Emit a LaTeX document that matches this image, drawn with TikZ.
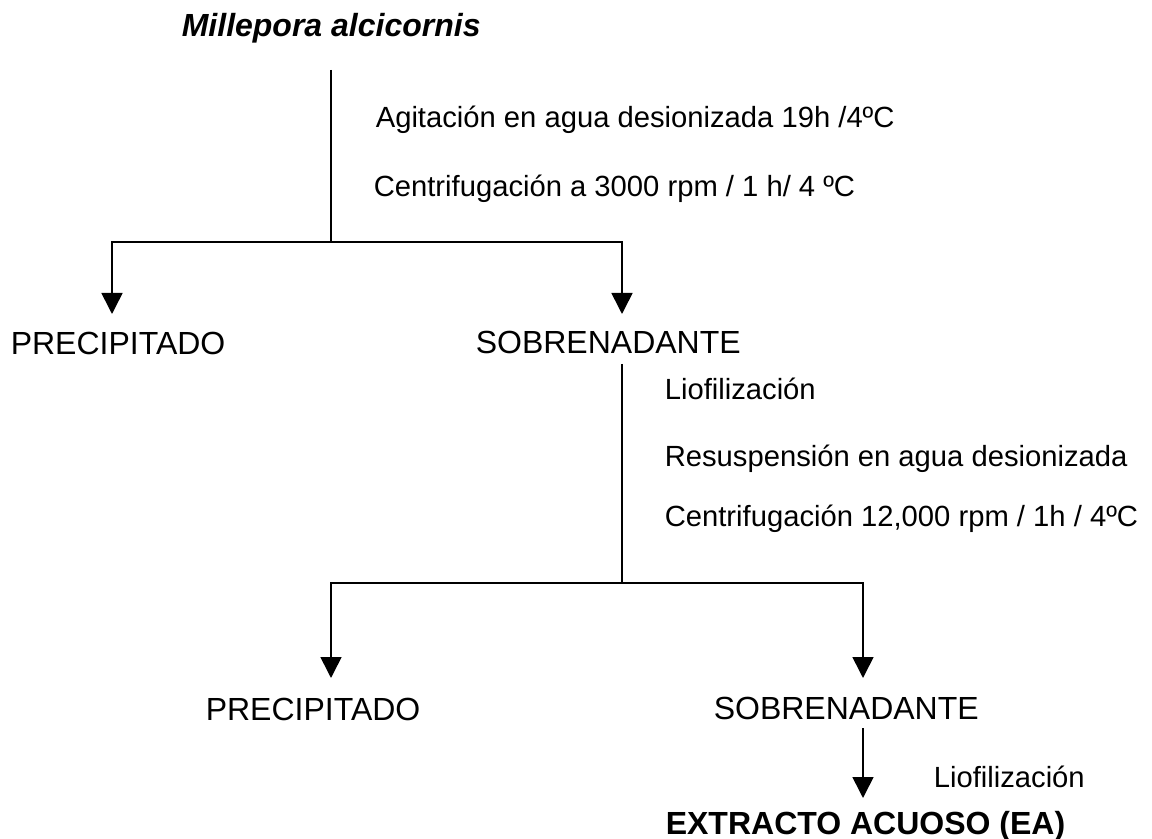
\documentclass[tikz,border=0pt]{standalone}
\usepackage{fontspec}
\setmainfont{Liberation Sans}
\usetikzlibrary{arrows.meta}
\tikzset{
	fase/.style={anchor=base west,inner sep=0pt,font=\fontsize{16pt}{19pt}\selectfont},
	paso/.style={anchor=base west,inner sep=0pt,font=\fontsize{14.6pt}{17pt}\selectfont},
	flecha/.style={-{Triangle[width=10.5pt,length=10.5pt]}}
}
\begin{document}
\begin{tikzpicture}[x=0.5pt,y=-0.5pt,line width=0.8pt]
		\useasboundingbox (0,0) rectangle (1152,839);
		% textos
		\node[fase,font=\bfseries\itshape\fontsize{16pt}{19pt}\selectfont] (millepora) at (181,37) {Millepora alcicornis};
		\node[paso] (agitacion) at (375,128) {Agitación en agua desionizada 19h /4ºC};
		\node[paso] (centrif1) at (373,197) {Centrifugación a 3000 rpm / 1 h/ 4 ºC};
		\node[fase] (prec1) at (10,355) {PRECIPITADO};
		\node[fase] (sobr1) at (475,354) {SOBRENADANTE};
		\node[paso] (liof1) at (664,400) {Liofilización};
		\node[paso] (resusp) at (664,467) {Resuspensión en agua desionizada};
		\node[paso] (centrif2) at (664,527) {Centrifugación 12,000 rpm / 1h / 4ºC};
		\node[fase] (prec2) at (205,720) {PRECIPITADO};
		\node[fase] (sobr2) at (713,719) {SOBRENADANTE};
		\node[paso] (liof2) at (933,787) {Liofilización};
		\node[fase,font=\bfseries\fontsize{16pt}{19pt}\selectfont] (ea) at (665,834) {EXTRACTO ACUOSO (EA)};
		% lineas
		\path
		(331,70) coordinate (A)
		(331,242) coordinate (B)
		(112,314) coordinate (P1)
		(622,314) coordinate (S1)
		(622,364) coordinate (C)
		(622,583) coordinate (D)
		(331,678) coordinate (P2)
		(863,678) coordinate (S2)
		(863,728) coordinate (E)
		(863,798) coordinate (F);
		\draw (A)--(B);
		\draw (C)--(D);
		\foreach \p in {P1,S1}
		\draw[flecha] (B) -| (\p);
		\foreach \p in {P2,S2}
		\draw[flecha] (D) -| (\p);
		\draw[flecha] (E)--(F);
		
	\end{tikzpicture}
\end{document}
